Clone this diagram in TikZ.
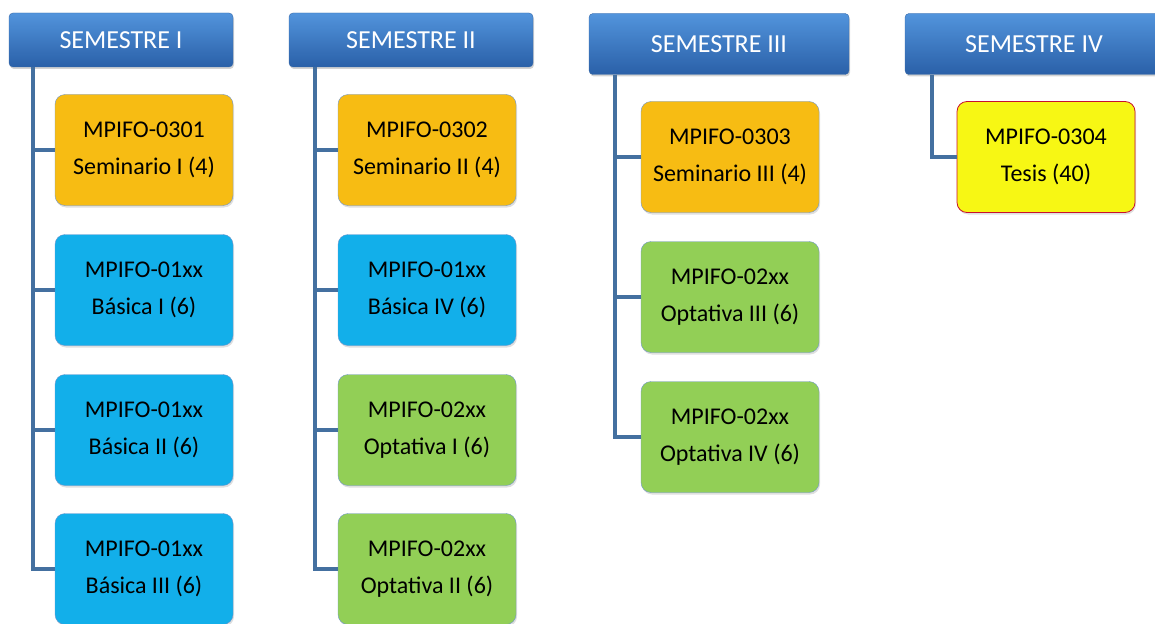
\documentclass[tikz,border=0pt]{standalone}
\usepackage{fontspec}
\setmainfont{Carlito}
\usetikzlibrary{shadows}
\definecolor{hdrtop}{HTML}{5294DC}
\definecolor{hdrbot}{HTML}{2A60A8}
\definecolor{hdrline}{HTML}{3A6AA8}
\definecolor{linkblue}{HTML}{4470A0}
\definecolor{boxline}{HTML}{6F95CC}
\definecolor{orangebox}{HTML}{F7BC13}
\definecolor{bluebox}{HTML}{12AFEA}
\definecolor{greenbox}{HTML}{92CF56}
\definecolor{yellowbox}{HTML}{F7F714}
\definecolor{redline}{HTML}{C8102E}

\begin{document}
\begin{tikzpicture}
   [x=1pt,y=-1pt,
   header/.style={rectangle, rounded corners=4pt, draw=hdrline, top color=hdrtop, bottom color=hdrbot, text=white, font=\fontsize{26}{37}\selectfont, inner sep=0pt, drop shadow={opacity=0.35, shadow xshift=1pt, shadow yshift=-2pt}},
   course/.style={rectangle, rounded corners=10pt, draw=boxline, align=center, text=black, font=\fontsize{24}{37}\selectfont, inner sep=0pt, minimum width=178pt, minimum height=111pt, drop shadow={opacity=0.25, shadow xshift=1pt, shadow yshift=-2pt}},
   seminar/.style={course, fill=orangebox},
   basic/.style={course, fill=bluebox},
   elective/.style={course, fill=greenbox},
   thesis/.style={course, fill=yellowbox, draw=redline, thick},
   conn/.style={draw=linkblue, line width=3.8pt},
   ]
 \useasboundingbox (0,0) rectangle (1155,623);
 % semester headers
 \node at (121,40) [header, minimum width=224pt, minimum height=54pt] (s1) {SEMESTRE I};
 \node at (411,40) [header, minimum width=244pt, minimum height=54pt] (s2) {SEMESTRE II};
 \node at (719,44) [header, minimum width=260pt, minimum height=61pt] (s3) {SEMESTRE III};
 \node at (1034,44) [header, minimum width=258pt, minimum height=61pt] (s4) {SEMESTRE IV};
 % semester I
 \node at (144,150) [seminar] (c11) {MPIFO-0301\\Seminario I (4)};
 \node at (144,290) [basic] (c12) {MPIFO-01xx\\Básica I (6)};
 \node at (144,430) [basic] (c13) {MPIFO-01xx\\Básica II (6)};
 \node at (144,569) [basic] (c14) {MPIFO-01xx\\Básica III (6)};
 % semester II
 \node at (427,150) [seminar] (c21) {MPIFO-0302\\Seminario II (4)};
 \node at (427,290) [basic] (c22) {MPIFO-01xx\\Básica IV (6)};
 \node at (427,430) [elective] (c23) {MPIFO-02xx\\Optativa I (6)};
 \node at (427,569) [elective] (c24) {MPIFO-02xx\\Optativa II (6)};
 % semester III
 \node at (730,157) [seminar] (c31) {MPIFO-0303\\Seminario III (4)};
 \node at (730,297) [elective] (c32) {MPIFO-02xx\\Optativa III (6)};
 \node at (730,437) [elective] (c33) {MPIFO-02xx\\Optativa IV (6)};
 % semester IV
 \node at (1046,157) [thesis] (c41) {MPIFO-0304\\Tesis (40)};
 % links
 \foreach \c in {c11,c12,c13,c14}
   \draw[conn] ([xshift=24pt]s1.south west) |- (\c.west);
 \foreach \c in {c21,c22,c23,c24}
   \draw[conn] ([xshift=26pt]s2.south west) |- (\c.west);
 \foreach \c in {c31,c32,c33}
   \draw[conn] ([xshift=26pt]s3.south west) |- (\c.west);
 \draw[conn] ([xshift=27pt]s4.south west) |- (c41.west);
\end{tikzpicture}
\end{document}
